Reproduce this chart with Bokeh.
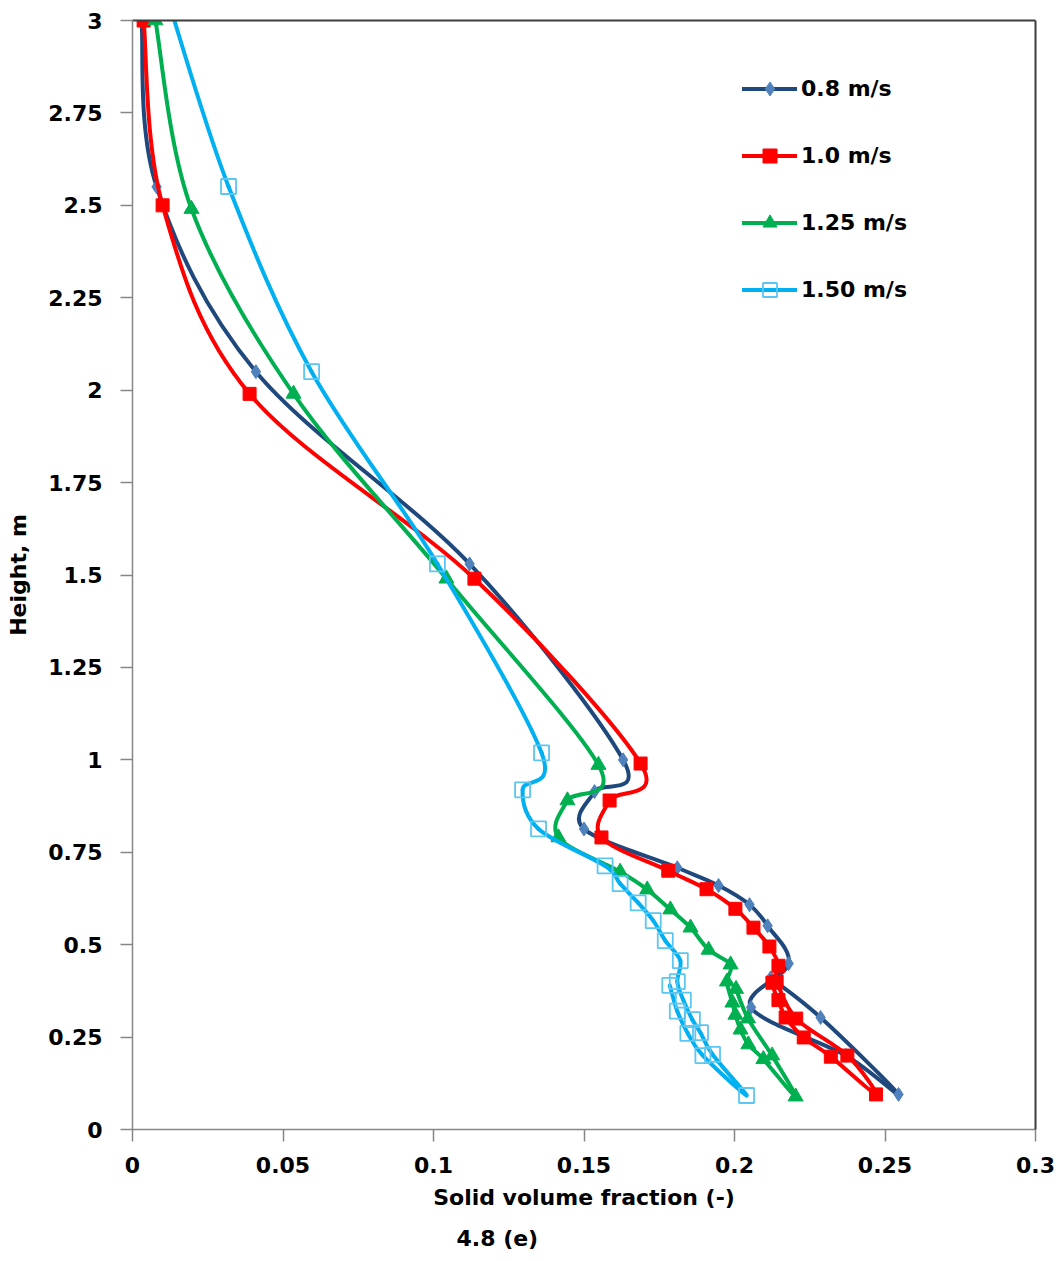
import numpy as np
from bokeh.plotting import figure
from bokeh.models import Range1d, LinearAxis, FixedTicker, Legend, LegendItem, Title
from bokeh.embed import file_html
from bokeh.resources import INLINE

# ---------------- data ----------------
series_labels = ["0.8 m/s", "1.0 m/s", "1.25 m/s", "1.50 m/s"]

x_08 = [0.003, 0.008, 0.041, 0.112, 0.163, 0.1535, 0.150, 0.181, 0.1947, 0.205, 0.211, 0.218,
        0.2055, 0.237, 0.2545, 0.2286, 0.212]
y_08 = [3.0, 2.55, 2.05, 1.53, 1.0, 0.914, 0.813, 0.708, 0.66, 0.608, 0.551, 0.449,
        0.33, 0.2, 0.095, 0.303, 0.41]

x_10 = [0.0037, 0.010, 0.0389, 0.1136, 0.1688, 0.1585, 0.1558, 0.178, 0.1907, 0.2003, 0.2063,
        0.2116, 0.2146, 0.2126, 0.2146, 0.217, 0.223, 0.232, 0.247, 0.2375, 0.2205, 0.214]
y_10 = [3.0, 2.5, 1.99, 1.49, 0.99, 0.89, 0.79, 0.70, 0.65, 0.597, 0.546,
        0.495, 0.443, 0.397, 0.35, 0.303, 0.249, 0.197, 0.095, 0.2, 0.3, 0.4]

x_125 = [0.0076, 0.0196, 0.0535, 0.1043, 0.1548, 0.1445, 0.1415, 0.162, 0.171, 0.1787, 0.1854,
         0.1914, 0.1987, 0.1975, 0.1993, 0.2003, 0.202, 0.2046, 0.2096, 0.2203, 0.2125, 0.2045, 0.2005]
y_125 = [3.0, 2.49, 1.99, 1.49, 0.986, 0.89, 0.79, 0.697, 0.649, 0.595, 0.546,
         0.486, 0.446, 0.40, 0.343, 0.31, 0.27, 0.23, 0.19, 0.089, 0.2, 0.3, 0.38]

x_150 = [0.012, 0.0319, 0.0595, 0.1013, 0.1359, 0.1296, 0.1349, 0.157, 0.162, 0.168, 0.173,
         0.177, 0.182, 0.181, 0.183, 0.186, 0.1887, 0.1927, 0.204, 0.1895, 0.1845, 0.181, 0.1785]
y_150 = [3.05, 2.551, 2.05, 1.53, 1.019, 0.919, 0.813, 0.713, 0.665, 0.613, 0.565,
         0.511, 0.457, 0.40, 0.35, 0.297, 0.262, 0.203, 0.092, 0.2, 0.26, 0.32, 0.39]

x_ticks = [0, 0.05, 0.1, 0.15, 0.2, 0.25, 0.3]
x_tick_labels = ["0", "0.05", "0.1", "0.15", "0.2", "0.25", "0.3"]
y_ticks = [0, 0.25, 0.5, 0.75, 1, 1.25, 1.5, 1.75, 2, 2.25, 2.5, 2.75, 3]
y_tick_labels = ["0", "0.25", "0.5", "0.75", "1", "1.25", "1.5", "1.75", "2", "2.25", "2.5", "2.75", "3"]

FONT = "DejaVu Sans"


def smooth_segments(xs, ys, t=1.0 / 6.0):
    """Bezier control points (Catmull-Rom style, like a smoothed Excel line)."""
    x = np.asarray(xs, float)
    y = np.asarray(ys, float)
    n = len(x)
    xp = np.r_[x[0], x, x[-1]]
    yp = np.r_[y[0], y, y[-1]]
    cx0 = x[:-1] + (xp[2:n + 1] - xp[0:n - 1]) * t
    cy0 = y[:-1] + (yp[2:n + 1] - yp[0:n - 1]) * t
    cx1 = x[1:] - (xp[3:n + 2] - xp[1:n]) * t
    cy1 = y[1:] - (yp[3:n + 2] - yp[1:n]) * t
    return dict(x0=x[:-1], y0=y[:-1], x1=x[1:], y1=y[1:], cx0=cx0, cy0=cy0, cx1=cx1, cy1=cy1)


p = figure(width=1059, height=1261, output_backend="svg", toolbar_location=None,
           x_range=Range1d(0, 0.3), y_range=Range1d(0, 3),
           min_border_left=132, min_border_right=24, min_border_top=20, min_border_bottom=131)
p.grid.visible = False
p.outline_line_color = None
p.background_fill_color = "white"
p.border_fill_color = "white"

styles = [
    dict(line="#1F497D", marker="diamond", fill="#4F81BD", mline="#4F81BD", size=14, lw=1),
    dict(line="#FF0000", marker="square", fill="#FF0000", mline="#FF0000", size=13, lw=1),
    dict(line="#00B050", marker="triangle", fill="#00B050", mline="#00B050", size=15, lw=1),
    dict(line="#00B0F0", marker="square", fill=None, mline="#5CC6F2", size=15, lw=1.8),
]
data = [(x_08, y_08), (x_10, y_10), (x_125, y_125), (x_150, y_150)]

items = []
for (xs, ys), st, lab in zip(data, styles, series_labels):
    seg = smooth_segments(xs, ys)
    br = p.bezier(x0="x0", y0="y0", x1="x1", y1="y1", cx0="cx0", cy0="cy0", cx1="cx1", cy1="cy1",
                  source=seg, line_color=st["line"], line_width=4, line_cap="round")
    if st["fill"] is None:
        sr = p.scatter(xs, ys, marker=st["marker"], size=st["size"], fill_color=None,
                       line_color=st["mline"], line_width=st["lw"])
    else:
        sr = p.scatter(xs, ys, marker=st["marker"], size=st["size"], fill_color=st["fill"],
                       line_color=st["mline"], line_width=st["lw"])
    items.append(LegendItem(label=lab, renderers=[br, sr]))

legend = Legend(items=items, location=(610, 822), orientation="vertical",
                glyph_width=55, glyph_height=35, label_height=20, spacing=32,
                padding=0, margin=0, border_line_color=None, background_fill_alpha=0,
                label_text_font=FONT, label_text_font_style="bold", label_text_font_size="22px",
                label_text_color="black", label_standoff=4)
p.add_layout(legend)

AX = "#868686"
for ax, ticks, labels in ((p.xaxis[0], x_ticks, x_tick_labels), (p.yaxis[0], y_ticks, y_tick_labels)):
    ax.ticker = FixedTicker(ticks=ticks, minor_ticks=[])
    ax.major_label_overrides = {float(t): l for t, l in zip(ticks, labels)}
    ax.axis_line_color = AX
    ax.axis_line_width = 1.5
    ax.major_tick_line_color = AX
    ax.major_tick_line_width = 1.5
    ax.major_tick_out = 12
    ax.major_tick_in = 0
    ax.minor_tick_out = 0
    ax.minor_tick_in = 0
    ax.major_label_text_font = FONT
    ax.major_label_text_font_style = "bold"
    ax.major_label_text_font_size = "22px"
    ax.major_label_text_color = "black"
    ax.axis_label_text_font = FONT
    ax.axis_label_text_font_style = "bold"
    ax.axis_label_text_font_size = "22px"
    ax.axis_label_text_color = "black"

p.xaxis.axis_label = "Solid volume fraction (-)"
p.yaxis.axis_label = "Height, m"
p.xaxis.major_label_standoff = 15
p.xaxis.axis_label_standoff = 9
p.yaxis.major_label_standoff = 18
p.yaxis.axis_label_standoff = 14

for place in ("above", "right"):
    b = LinearAxis(ticker=FixedTicker(ticks=[], minor_ticks=[]), axis_line_color="#3C3C3C",
                   axis_line_width=2, major_tick_out=0, major_tick_in=0, minor_tick_out=0,
                   minor_tick_in=0, major_label_standoff=0)
    p.add_layout(b, place)

cap = Title(text="4.8 (e)", align="left", offset=324, standoff=22,
            text_font=FONT, text_font_style="bold", text_font_size="22px", text_color="black")
p.add_layout(cap, "below")

open("out.html", "w").write(file_html(p, INLINE))
